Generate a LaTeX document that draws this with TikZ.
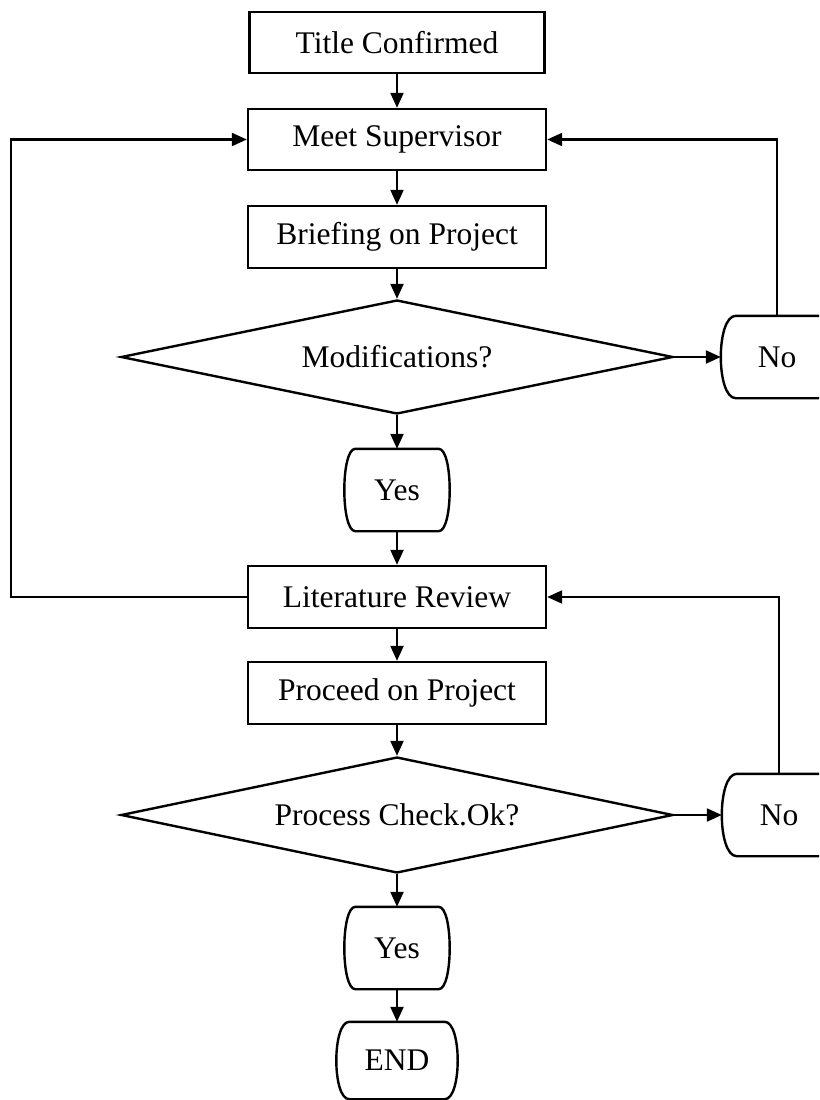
\documentclass[tikz,border=0pt]{standalone}
\usepackage{fontspec}
\setmainfont{Liberation Serif}
\usetikzlibrary{shapes.geometric,arrows.meta}
\newcommand\termoutline[2]{%
  \draw ([xshift=#2]#1.north west) -- ([xshift=-#2]#1.north east)
    .. controls ([xshift=#2/3]#1.north east) and ([xshift=#2/3]#1.south east) .. ([xshift=-#2]#1.south east)
    -- ([xshift=#2]#1.south west)
    .. controls ([xshift=-#2/3]#1.south west) and ([xshift=-#2/3]#1.north west) .. cycle;}
\begin{document}
\begin{tikzpicture}[x=1pt,y=-1pt, line width=2.4pt,
  font=\fontsize{31.5}{37}\selectfont,
  procbox/.style={draw, rectangle, minimum width=298pt, minimum height=61pt, inner sep=0pt},
  decide/.style={draw, diamond, inner sep=0pt, shape aspect=5, minimum width=552pt, minimum height=114pt},
  term/.style={inner sep=0pt, minimum height=80pt},
  flow/.style={-{Triangle[length=15pt,width=13pt]}, line width=2.2pt}]
\useasboundingbox (0,0) rectangle (819,1100);
\clip (0,0) rectangle (819,1100);

\node[procbox, minimum width=295pt] (title) at (397,42.5) {Title Confirmed};
\node[procbox] (meet) at (397,139.5) {Meet Supervisor};
\node[procbox, minimum height=62pt] (brief) at (397,237) {Briefing on Project};
\node[decide] (mod) at (397,357) {Modifications?};
\node[term, minimum width=110pt] (no1) at (777,357) {No};
\termoutline{no1}{15pt}
\node[term, minimum width=103pt] (yes1) at (397,490) {Yes};
\termoutline{yes1}{11pt}
\node[procbox, minimum height=62pt] (lit) at (397,597) {Literature Review};
\node[procbox, minimum height=62pt] (proc) at (397,693) {Proceed on Project};
\node[decide, minimum height=116pt] (chk) at (397,815) {Process Check.Ok?};
\node[term, minimum width=112pt] (no2) at (779,815) {No};
\termoutline{no2}{15pt}
\node[term, minimum width=103pt] (yes2) at (397,948) {Yes};
\termoutline{yes2}{11pt}
\node[term, minimum width=119pt, minimum height=75pt] (end) at (397,1060.5) {END};
\termoutline{end}{13pt}

\coordinate (lft) at (11,0);

\draw[flow] (title) -- (meet);
\draw[flow] (meet) -- (brief);
\draw[flow] (brief) -- (mod);
\draw[flow] (mod.east) -- (no1.west);
\draw[flow] (no1.north) |- (meet.east);
\draw[flow] (mod.south) -- (yes1.north);
\draw[flow] (yes1.south) -- (lit.north);
\draw[flow] (lit.west) -- (lit.west -| lft) -- (meet.west -| lft) -- (meet.west);
\draw[flow] (lit) -- (proc);
\draw[flow] (proc) -- (chk);
\draw[flow] (chk.east) -- (no2.west);
\draw[flow] (no2.north) |- (lit.east);
\draw[flow] (chk.south) -- (yes2.north);
\draw[flow] (yes2.south) -- (end.north);
\end{tikzpicture}
\end{document}
